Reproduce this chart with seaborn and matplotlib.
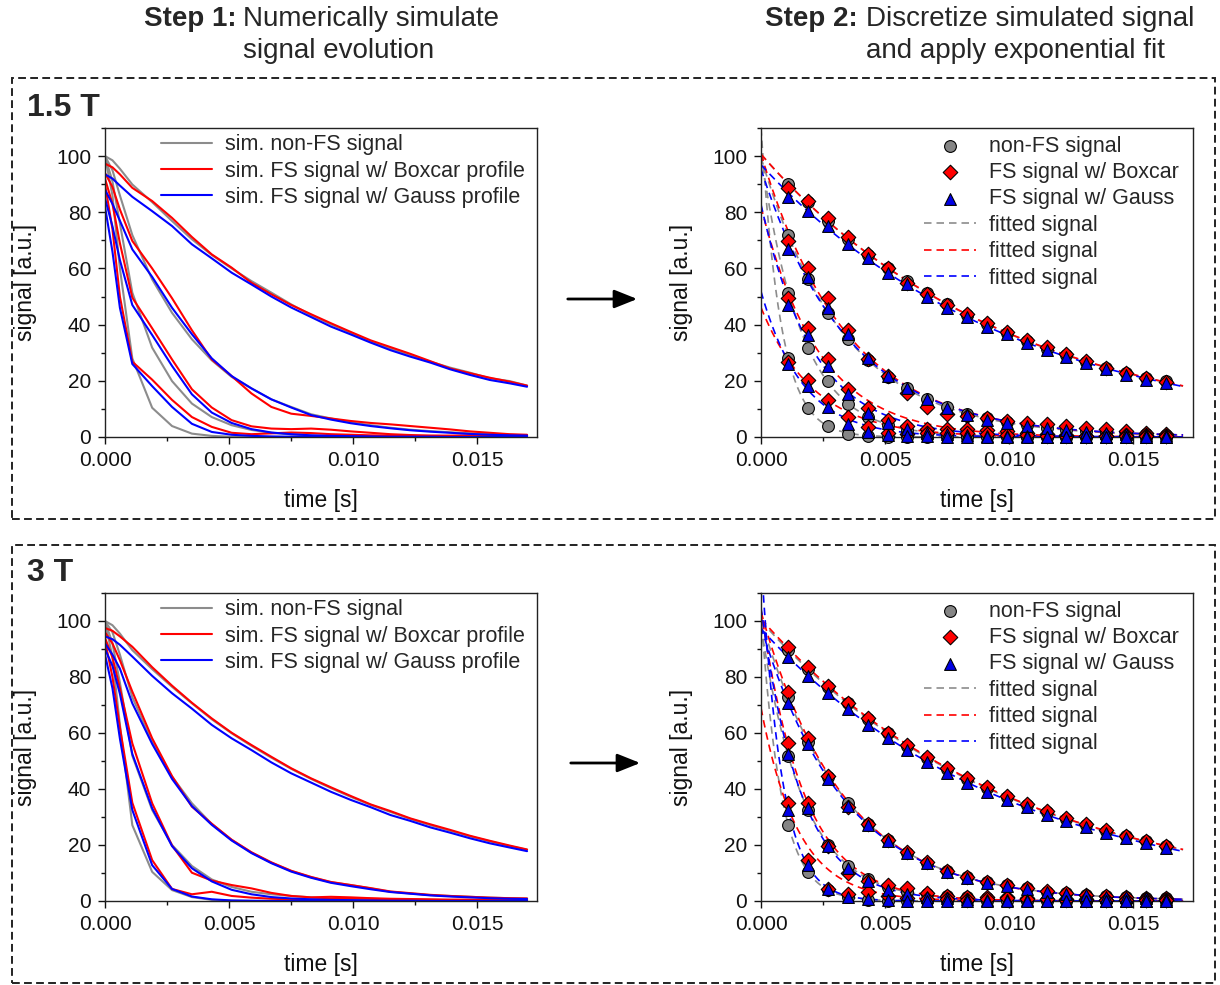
import numpy as np
import matplotlib
matplotlib.use('Agg')
import matplotlib.pyplot as plt
from matplotlib.ticker import MultipleLocator
from matplotlib.patches import Rectangle, FancyArrowPatch
import seaborn as sns

# echo times at which the simulated signal is discretized [s]
echo_times = [0.0011, 0.0019, 0.0027, 0.0035, 0.0043, 0.0051, 0.0059, 0.0067,
              0.0075, 0.0083, 0.0091, 0.0099, 0.0107, 0.0115, 0.0123, 0.0131,
              0.0139, 0.0147, 0.0155, 0.0163]
# time axis of the simulated curves: start, two early points, the echoes, end
sim_times = [0.0, 0.0003, 0.0006] + echo_times + [0.017]

# simulated signal at 1.5 T, one row per tissue (values on sim_times)
grey_15T = [
    [100, 98.5, 95.5, 89.9, 83.6, 76.9, 70.4, 64.8, 60.0, 55.5, 51.4, 47.2, 43.4, 40.1, 37.1, 34.0, 31.5, 29.2, 26.8, 24.7, 22.9, 20.9, 19.9, 18.3],
    [100, 95, 86, 71.9, 56.1, 44.2, 34.8, 27.3, 21.4, 17.3, 13.4, 10.7, 8.1, 6.6, 5.2, 4.2, 3.3, 2.6, 2.1, 1.7, 1.3, 1.0, 0.8, 0.6],
    [100, 91, 76, 51.4, 31.8, 19.9, 11.9, 7.1, 4.2, 2.5, 1.5, 0.9, 0.5, 0.3, 0.2, 0.1, 0.1, 0, 0, 0, 0, 0, 0, 0],
    [100, 86, 60, 28.0, 10.4, 3.9, 1.2, 0.4, 0.1, 0, 0, 0, 0, 0, 0, 0, 0, 0, 0, 0, 0, 0, 0, 0],
]
red_15T = [
    [97.3, 96, 93.5, 88.7, 84.0, 78.0, 71.2, 65.0, 60.3, 54.9, 50.8, 47.0, 43.7, 40.5, 37.4, 34.4, 32.0, 29.6, 27.0, 24.4, 22.7, 21.1, 19.7, 18.3],
    [94, 89, 81, 69.8, 60.0, 49.4, 38.0, 27.6, 21.7, 15.5, 10.7, 8.3, 7.5, 6.6, 5.7, 5.0, 4.5, 3.9, 3.3, 2.7, 2.0, 1.5, 1.0, 0.8],
    [92, 83, 69, 49.6, 38.7, 27.6, 17.0, 10.5, 6.0, 3.8, 3.0, 2.8, 3.0, 2.6, 2.0, 1.5, 1.0, 0.7, 0.5, 0.5, 0.6, 0.6, 0.5, 0.5],
    [90, 74, 50, 26.8, 20.4, 13.2, 7.1, 3.6, 1.5, 1.0, 1.3, 1.6, 1.4, 1.0, 0.8, 0.6, 0.5, 0.4, 0.4, 0.3, 0.3, 0.3, 0.3, 0.3],
]
blue_15T = [
    [93.5, 92, 89.5, 85.5, 80.4, 75.1, 68.6, 63.6, 58.5, 54.3, 50.0, 46.1, 42.7, 39.3, 36.5, 33.6, 30.9, 28.6, 26.5, 24.1, 22.1, 20.3, 19.1, 17.9],
    [88, 83, 77, 66.8, 57.0, 46.0, 36.6, 28.0, 21.7, 17.3, 13.4, 10.5, 7.8, 6.2, 4.9, 3.9, 3.1, 2.4, 1.9, 1.5, 1.1, 0.8, 0.6, 0.5],
    [85, 75, 63, 47.0, 36.3, 25.3, 15.2, 8.7, 5.0, 2.8, 1.6, 1.0, 0.6, 0.4, 0.3, 0.2, 0.1, 0.1, 0.1, 0, 0, 0, 0, 0],
    [82, 66, 46, 26.0, 18.1, 10.7, 4.7, 1.8, 0.8, 0.4, 0.2, 0.1, 0, 0, 0, 0, 0, 0, 0, 0, 0, 0, 0, 0],
]

# simulated signal at 3 T
grey_3T = [
    [100, 98.5, 95.5, 89.6, 82.8, 76.5, 70.6, 64.9, 59.9, 55.4, 51.2, 47.2, 43.6, 40.3, 37.2, 34.3, 31.8, 29.3, 27.1, 25.1, 23.1, 21.3, 19.6, 18.3],
    [100, 96, 88, 72.8, 56.9, 44.4, 34.9, 27.5, 21.8, 17.3, 13.7, 10.7, 8.5, 6.7, 5.7, 4.5, 3.3, 2.7, 2.1, 1.8, 1.5, 1.2, 1.0, 0.9],
    [100, 92, 78, 51.9, 32.5, 20.0, 12.5, 7.7, 5.0, 3.3, 2.4, 1.8, 1.3, 0.9, 0.6, 0.4, 0.3, 0.2, 0.1, 0.1, 0.1, 0, 0, 0],
    [100, 87, 63, 27.1, 10.4, 3.9, 1.4, 0.4, 0.1, 0, 0, 0, 0, 0, 0, 0, 0, 0, 0, 0, 0, 0, 0, 0],
]
red_3T = [
    [97.5, 96.5, 94.5, 90.8, 83.5, 76.9, 70.8, 65.2, 60.1, 55.7, 51.5, 47.4, 43.8, 40.6, 37.5, 34.5, 32.1, 29.5, 27.4, 25.4, 23.3, 21.5, 19.8, 18.4],
    [96, 92, 86, 74.8, 58.1, 44.6, 33.7, 27.6, 21.9, 17.4, 13.8, 10.8, 8.6, 6.8, 5.7, 4.6, 3.4, 2.8, 2.2, 1.8, 1.5, 1.2, 1.0, 0.9],
    [94, 87, 76, 56.3, 34.9, 19.8, 10.1, 7.3, 5.7, 4.5, 2.9, 1.8, 1.3, 1.5, 1.3, 1.0, 0.8, 0.7, 0.6, 0.5, 0.5, 0.4, 0.4, 0.4],
    [93, 80, 62, 35.1, 14.6, 4.3, 2.4, 3.3, 1.8, 1.2, 0.8, 0.6, 0.5, 0.8, 1.0, 0.8, 0.6, 0.5, 0.4, 0.3, 0.3, 0.3, 0.3, 0.3],
]
blue_3T = [
    [94.5, 93.5, 91.5, 87.3, 80.4, 74.2, 68.7, 62.9, 58.1, 53.9, 49.5, 45.6, 42.3, 39.0, 36.1, 33.5, 30.7, 28.6, 26.3, 24.4, 22.4, 20.6, 19.1, 17.8],
    [92, 88, 83, 70.6, 56.1, 43.6, 33.9, 27.2, 21.6, 17.1, 13.5, 10.5, 8.3, 6.5, 5.3, 4.2, 3.2, 2.6, 2.0, 1.6, 1.3, 1.0, 0.8, 0.7],
    [90, 84, 74, 52.5, 33.1, 19.6, 11.7, 7.0, 4.0, 2.4, 1.4, 0.9, 0.6, 0.4, 0.3, 0.2, 0.1, 0.1, 0, 0, 0, 0, 0, 0],
    [88, 76, 58, 32.5, 12.8, 4.3, 1.6, 0.6, 0.2, 0.1, 0, 0, 0, 0, 0, 0, 0, 0, 0, 0, 0, 0, 0, 0],
]

sim_labels = ['sim. non-FS signal', 'sim. FS signal w/ Boxcar profile', 'sim. FS signal w/ Gauss profile']
point_labels = ['non-FS signal', 'FS signal w/ Boxcar', 'FS signal w/ Gauss']
fit_label = 'fitted signal'

line_colors = ['#8c8c8c', '#ff0000', '#0000ff']
face_colors = ['#858585', '#ff0000', '#0000e6']
markers = ['o', 'D', '^']
marker_sizes = [72, 55, 72]

sns.set_theme(style='ticks')
plt.rcParams['font.family'] = ['Liberation Sans', 'DejaVu Sans']
plt.rcParams['axes.linewidth'] = 1.0
plt.rcParams['xtick.major.width'] = 1.0
plt.rcParams['ytick.major.width'] = 1.0

W, H = 1220, 985
fig = plt.figure(figsize=(W / 100, H / 100), dpi=100)


def px_box(left, right, top, bottom):
    return [left / W, 1 - bottom / H, (right - left) / W, (bottom - top) / H]


# fit s0*exp(-t/T2) to the discretized points (log-linear, weighted by signal)
def exp_fit(t, y):
    t = np.asarray(t, dtype=float)
    y = np.asarray(y, dtype=float)
    w = np.clip(y, 0, None)
    slope, icpt = np.polyfit(t, np.log(np.clip(y, 1e-3, None)), 1, w=w)
    return np.exp(icpt), slope


def style_axes(ax):
    ax.set_xlim(0, 0.0174)
    ax.set_ylim(0, 110)
    ax.set_xticks([0, 0.005, 0.010, 0.015])
    ax.set_xticklabels(['0.000', '0.005', '0.010', '0.015'])
    ax.set_yticks([0, 20, 40, 60, 80, 100])
    ax.xaxis.set_minor_locator(MultipleLocator(0.0025))
    ax.yaxis.set_minor_locator(MultipleLocator(10))
    ax.tick_params(which='both', direction='out', top=False, right=False,
                   labelsize=15, colors='#111111', pad=5)
    ax.tick_params(which='major', length=5)
    ax.tick_params(which='minor', length=3)
    for s in ax.spines.values():
        s.set_visible(True)
        s.set_color('#222222')
    ax.set_xlabel('time [s]', fontsize=16.5, labelpad=14, color='#111111')
    ax.set_ylabel('signal [a.u.]', fontsize=16.5, labelpad=14, color='#111111')


def sim_panel(ax, groups):
    handles = []
    for k, rows in enumerate(groups):
        for row in rows:
            sns.lineplot(x=sim_times, y=row, color=line_colors[k], lw=1.5,
                         ax=ax, legend=False)
        handles.append(ax.lines[-1])
    style_axes(ax)
    ax.legend(handles, sim_labels, loc='upper left', bbox_to_anchor=(0.13, 0.98),
              frameon=False, fontsize=15.5, handlelength=2.35, handletextpad=0.6,
              labelspacing=0.25, borderpad=0, borderaxespad=0)


def fit_panel(ax, groups):
    t_fit = np.linspace(0, 0.017, 150)
    fit_handles = []
    for k, rows in enumerate(groups):
        for row in rows:
            pts = row[3:23]
            s0, rate = exp_fit(echo_times, pts)
            sns.lineplot(x=t_fit, y=s0 * np.exp(rate * t_fit), color=line_colors[k],
                         lw=1.2, ls=(0, (4.5, 3)), ax=ax, legend=False, zorder=2)
        fit_handles.append(ax.lines[-1])
    pt_handles = []
    for k, rows in enumerate(groups):
        for row in rows:
            sns.scatterplot(x=echo_times, y=row[3:23], marker=markers[k], s=marker_sizes[k],
                            color=face_colors[k], edgecolor='black', linewidth=0.8,
                            ax=ax, legend=False, zorder=3, clip_on=False)
        pt_handles.append(ax.collections[-1])
    style_axes(ax)
    ax.legend(pt_handles + fit_handles, point_labels + [fit_label] * 3,
              loc='upper left', bbox_to_anchor=(0.378, 0.975), frameon=False,
              fontsize=15.5, handlelength=2.4, handletextpad=0.6, labelspacing=0.25,
              borderpad=0, borderaxespad=0)


ax1 = fig.add_axes(px_box(105, 537, 128, 437))
ax2 = fig.add_axes(px_box(761, 1193, 128, 437))
ax3 = fig.add_axes(px_box(105, 537, 593, 901))
ax4 = fig.add_axes(px_box(761, 1193, 593, 901))

sim_panel(ax1, [grey_15T, red_15T, blue_15T])
fit_panel(ax2, [grey_15T, red_15T, blue_15T])
sim_panel(ax3, [grey_3T, red_3T, blue_3T])
fit_panel(ax4, [grey_3T, red_3T, blue_3T])


def ftext(x, y, s, **kw):
    fig.text(x / W, 1 - y / H, s, va='center', **kw)


# column headers
ftext(236, 19, 'Step 1:', ha='right', fontsize=20, fontweight='bold')
ftext(243, 19, 'Numerically simulate', ha='left', fontsize=20)
ftext(243, 51, 'signal evolution', ha='left', fontsize=20)
ftext(858, 19, 'Step 2:', ha='right', fontsize=20, fontweight='bold')
ftext(866, 19, 'Discretize simulated signal', ha='left', fontsize=20)
ftext(866, 51, 'and apply exponential fit', ha='left', fontsize=20)

# field strength labels
ftext(27, 108, '1.5 T', ha='left', fontsize=23, fontweight='bold')
ftext(27, 573, '3 T', ha='left', fontsize=23, fontweight='bold')

# dashed frames around each row
for top, bottom in [(78, 519), (545, 983)]:
    fig.add_artist(Rectangle((12 / W, 1 - bottom / H), (1215 - 12) / W, (bottom - top) / H,
                             transform=fig.transFigure, fill=False, ec='#222222',
                             lw=1.4, ls=(0, (4, 2.2))))

# arrows from step 1 to step 2
for x0, x1, y in [(565, 640, 299), (568, 643, 763)]:
    fig.add_artist(FancyArrowPatch((x0 / W, 1 - y / H), (x1 / W, 1 - y / H),
                                   transform=fig.transFigure, arrowstyle='-|>,head_length=0.7,head_width=0.28',
                                   mutation_scale=20, lw=2, color='black'))

fig.savefig('out.png', dpi=100)
